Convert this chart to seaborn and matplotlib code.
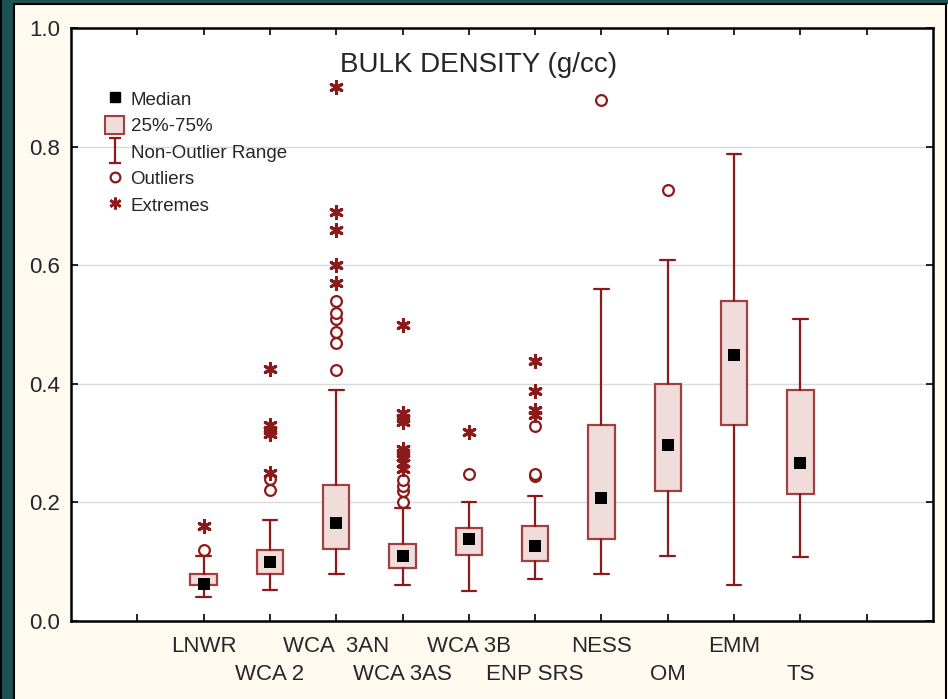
import numpy as np
import pandas as pd
import matplotlib
matplotlib.use("Agg")
import matplotlib.pyplot as plt
import seaborn as sns
from matplotlib.lines import Line2D
from matplotlib.patches import Patch, Rectangle
from matplotlib.path import Path

# Data (bulk density, g/cc)
sites = ["LNWR", "WCA 2", "WCA  3AN", "WCA 3AS", "WCA 3B",
         "ENP SRS", "NESS", "OM", "EMM", "TS"]
medians = [0.062, 0.100, 0.166, 0.110, 0.139, 0.126, 0.207, 0.297, 0.448, 0.267]
q1 = [0.060, 0.079, 0.122, 0.090, 0.111, 0.102, 0.139, 0.220, 0.330, 0.215]
q3 = [0.080, 0.120, 0.230, 0.130, 0.156, 0.160, 0.330, 0.400, 0.540, 0.390]
whisk_lo = [0.041, 0.052, 0.080, 0.061, 0.050, 0.070, 0.080, 0.110, 0.060, 0.108]
whisk_hi = [0.110, 0.170, 0.390, 0.190, 0.201, 0.210, 0.560, 0.608, 0.787, 0.509]

outliers = {
    "LNWR": [0.120],
    "WCA 2": [0.221, 0.239],
    "WCA  3AN": [0.424, 0.469, 0.488, 0.509, 0.519, 0.539],
    "WCA 3AS": [0.201, 0.219, 0.228, 0.238],
    "WCA 3B": [0.248],
    "ENP SRS": [0.244, 0.248, 0.328],
    "NESS": [0.879],
    "OM": [0.727],
}
extremes = {
    "LNWR": [0.160],
    "WCA 2": [0.249, 0.316, 0.322, 0.330, 0.425],
    "WCA  3AN": [0.570, 0.600, 0.659, 0.690, 0.900],
    "WCA 3AS": [0.256, 0.266, 0.277, 0.283, 0.290, 0.336, 0.342, 0.350, 0.499],
    "WCA 3B": [0.318],
    "ENP SRS": [0.347, 0.356, 0.388, 0.439],
}

edge = "#8b1a1a"
box_edge = "#a04040"
fill = "#f1dcdc"

sns.set_style("white")
plt.rcParams["font.family"] = ["Liberation Sans", "DejaVu Sans"]

fig = plt.figure(figsize=(9.48, 6.99), dpi=100, facecolor="#fffaf0")
ax = fig.add_axes([71 / 948, 1 - 621 / 699, 862 / 948, 593 / 699])
ax.set_facecolor("white")

pos = np.arange(len(sites))
stats = []
for i, s in enumerate(sites):
    stats.append(dict(med=medians[i], q1=q1[i], q3=q3[i],
                      whislo=whisk_lo[i], whishi=whisk_hi[i], fliers=[], label=s))

ax.bxp(stats, positions=pos, widths=0.40, capwidths=0.22, patch_artist=True,
       showfliers=False, manage_ticks=False,
       boxprops=dict(facecolor=fill, edgecolor=box_edge, linewidth=1.6),
       whiskerprops=dict(color=edge, linewidth=1.6),
       capprops=dict(color=edge, linewidth=1.6),
       medianprops=dict(linewidth=0))

# medians as black squares
med_df = pd.DataFrame({"x": pos, "y": medians})
sns.scatterplot(data=med_df, x="x", y="y", marker="s", s=75, color="black",
                edgecolor="black", linewidth=0, ax=ax, zorder=4)

out_df = pd.DataFrame([(sites.index(k), v) for k, vals in outliers.items() for v in vals],
                      columns=["x", "y"])
sns.scatterplot(data=out_df, x="x", y="y", marker="o", s=60, facecolor="white",
                edgecolor=edge, linewidth=1.6, ax=ax, zorder=4)

ext_df = pd.DataFrame([(sites.index(k), v) for k, vals in extremes.items() for v in vals],
                      columns=["x", "y"])
sns.scatterplot(data=ext_df, x="x", y="y", marker=(6, 2, 0), s=75, color=edge,
                edgecolor=edge, linewidth=2.2, ax=ax, zorder=4)

# axes styling
ax.set_xlim(-2, 11)
ax.set_ylim(0, 1.0)
ax.set_xlabel("")
ax.set_ylabel("")
ax.set_yticks(np.arange(0, 1.01, 0.2))
ax.set_yticklabels([f"{v:.1f}" for v in np.arange(0, 1.01, 0.2)])

# staggered category labels: upper row on major ticks, lower row on minor ticks
upper = [-1] + list(pos[0::2]) + [11 - 1]
ax.set_xticks(upper)
ax.set_xticklabels([""] + sites[0::2] + [""], fontsize=16)
ax.set_xticks(pos[1::2], minor=True)
ax.set_xticklabels(sites[1::2], minor=True, fontsize=16)
ax.tick_params(axis="x", which="major", direction="in", top=True, bottom=True,
               length=5, width=1.2, pad=10.5, color="black")
ax.tick_params(axis="x", which="minor", direction="in", top=True, bottom=True,
               length=5, width=1.2, pad=30.7, color="black")
ax.tick_params(axis="y", direction="in", left=True, right=True, length=5,
               width=1.2, pad=8, labelsize=16, color="black")
for sp in ax.spines.values():
    sp.set_color("black")
    sp.set_linewidth(1.8)
for v in [0.2, 0.4, 0.6, 0.8]:
    ax.axhline(v, color="#dadada", linewidth=1.0, zorder=0)

ax.text(0.473, 0.937, "BULK DENSITY (g/cc)", transform=ax.transAxes,
        ha="center", va="center", fontsize=20)

# legend
ibeam = Path([(-0.45, 1), (0.45, 1), (0, 1), (0, -1), (-0.45, -1), (0.45, -1)],
             [Path.MOVETO, Path.LINETO, Path.MOVETO, Path.LINETO,
              Path.MOVETO, Path.LINETO])
handles = [
    Line2D([], [], marker="s", color="black", linestyle="none", markersize=7.5),
    Patch(facecolor=fill, edgecolor=box_edge, linewidth=1.5),
    Line2D([], [], marker=ibeam, color=edge, linestyle="none", markersize=18,
           markeredgewidth=1.6),
    Line2D([], [], marker="o", markerfacecolor="white", markeredgecolor=edge,
           linestyle="none", markersize=7, markeredgewidth=1.6),
    Line2D([], [], marker=(6, 2, 0), color=edge, linestyle="none",
           markersize=8.5, markeredgewidth=2.0),
]
names = ["Median", "25%-75%", "Non-Outlier Range", "Outliers", "Extremes"]
ax.legend(handles, names, loc="upper left", bbox_to_anchor=(0.031, 0.909),
          frameon=False, fontsize=13.5, handlelength=1.0, handleheight=1.1,
          handletextpad=0.35, labelspacing=0.38, borderpad=0.4, borderaxespad=0)

# dark frame on the left and top of the figure
teal = "#1d5252"
fig.patches.append(Rectangle((0, 0), 14 / 948, 1, transform=fig.transFigure,
                             facecolor=teal, edgecolor="none", zorder=0))
fig.patches.append(Rectangle((0, 1 - 4 / 699), 1, 4 / 699, transform=fig.transFigure,
                             facecolor=teal, edgecolor="none", zorder=0))
fig.lines.append(Line2D([14 / 948, 14 / 948], [0, 1 - 4 / 699], transform=fig.transFigure,
                        color="black", linewidth=1.5))
fig.lines.append(Line2D([14 / 948, 946 / 948], [1 - 4 / 699, 1 - 4 / 699],
                        transform=fig.transFigure, color="black", linewidth=1.5))
fig.lines.append(Line2D([946 / 948, 946 / 948], [0, 1 - 4 / 699], transform=fig.transFigure,
                        color="black", linewidth=1.5))
fig.lines.append(Line2D([0.5 / 948, 0.5 / 948], [0, 1], transform=fig.transFigure,
                        color="black", linewidth=1.5))

fig.savefig("out.png", dpi=100, facecolor=fig.get_facecolor())
